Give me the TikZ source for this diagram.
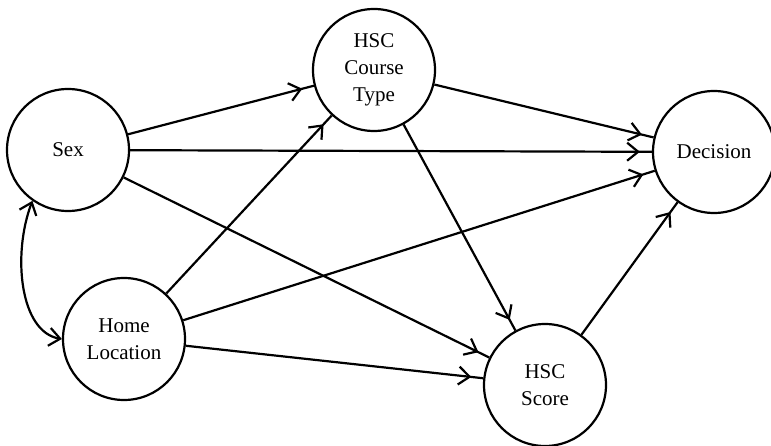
\documentclass[tikz,border=0pt]{standalone}
\usepackage{fontspec}
\setmainfont{Liberation Serif}
\usetikzlibrary{arrows.meta,decorations.markings}
\begin{document}
\begin{tikzpicture}[x=1pt,y=-1pt,
  var/.style={circle,draw,line width=2.2pt,minimum size=122pt,inner sep=0pt,align=center,font=\fontsize{21}{27}\selectfont},
  conn/.style={line width=2.2pt,postaction={decorate},
    decoration={markings,mark=at position -12pt with {\arrow{Straight Barb[length=11pt,width=18pt]}}}},
  tip/.tip={Straight Barb[length=11pt,width=18pt]},
]
\useasboundingbox (0,0) rectangle (771,446);
\node[var] (sex) at (68,150) {Sex};
\node[var] (course) at (374,70) {HSC\\Course\\Type};
\node[var] (dec) at (714,152) {Decision};
\node[var] (home) at (124,339) {Home\\Location};
\node[var] (score) at (545,385) {HSC\\Score};
\draw[conn] (sex) -- (course);
\draw[conn] (sex) -- (dec);
\draw[conn] (sex) -- (score);
\draw[conn] (home) -- (course);
\draw[conn] (home) -- (dec);
\draw[conn] (home) -- (score);
\draw[conn] (course) -- (dec);
\draw[conn] (course) -- (score);
\draw[conn] (score) -- (dec);
\draw[line width=2.2pt,tip-tip] (sex.235) .. controls (12,255) and (20,332) .. (home.180);
\end{tikzpicture}
\end{document}
